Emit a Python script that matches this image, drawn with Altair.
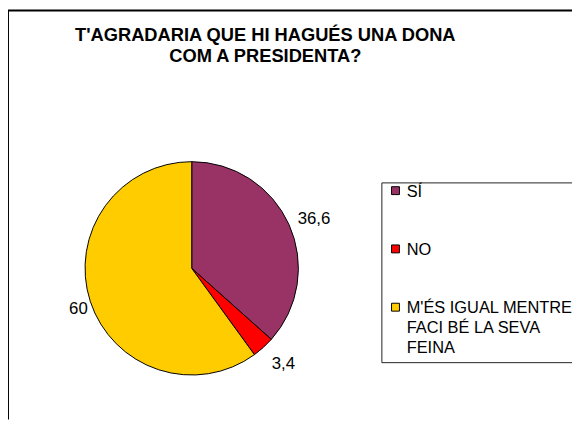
import json
import textwrap

import altair as alt
import pandas as pd

# ---- data -------------------------------------------------------------
categories = ["SÍ", "NO", "M'ÉS IGUAL MENTRE FACI BÉ LA SEVA FEINA"]
values = [36.6, 3.4, 60]
colors = ["#993366", "#FF0000", "#FFCC00"]
title_lines = ["T'AGRADARIA QUE HI HAGUÉS UNA DONA", "COM A PRESIDENTA?"]

# ---- layout / style ---------------------------------------------------
FONT = "Liberation Sans"
W, H = 571, 414
CX, CY, R = 186, 261, 108
LABEL_R = 128

df = pd.DataFrame({
    "categoria": categories,
    "valor": values,
    "ordre": list(range(len(categories))),
    "etiqueta": [f"{v:g}".replace(".", ",") for v in values],
})

# wrap long legend labels onto several lines
label_expr = "datum.label"
for c in categories:
    lines = textwrap.wrap(c, 17)
    if len(lines) > 1:
        label_expr = (f"datum.label == {json.dumps(c, ensure_ascii=False)} ? "
                      f"{json.dumps(lines, ensure_ascii=False)} : " + label_expr)

legend = alt.Legend(
    title=None,
    orient="none",
    legendX=378,
    legendY=174,
    padding=6,
    strokeColor="#222222",
    fillColor="white",
    labelFont=FONT,
    labelFontSize=16.6,
    labelColor="black",
    labelLimit=400,
    labelOffset=3,
    labelBaseline="alphabetic",
    labelExpr=label_expr,
    symbolType="M-1,-2.49L1,-2.49L1,-0.49L-1,-0.49Z",
    symbolSize=64,
    symbolStrokeColor="black",
    symbolStrokeWidth=1,
    symbolOpacity=1,
    rowPadding=42,
)

base = alt.Chart(df).encode(
    theta=alt.Theta("valor:Q", stack=True),
    order=alt.Order("ordre:Q"),
)

pie = base.mark_arc(radius=R, stroke="black", strokeWidth=1).encode(
    color=alt.Color("categoria:N",
                    scale=alt.Scale(domain=categories, range=colors),
                    sort=categories,
                    legend=legend),
    x=alt.value(CX),
    y=alt.value(CY),
)

labels = base.mark_text(radius=LABEL_R, font=FONT, fontSize=17, color="black",
                        align="center", baseline="middle", dx=7, dy=2).encode(
    text="etiqueta:N",
    x=alt.value(CX),
    y=alt.value(CY),
)

one = pd.DataFrame({"k": [0]})
border_top = alt.Chart(one).mark_rule(color="black", strokeWidth=2).encode(
    x=alt.value(0), x2=alt.value(W), y=alt.value(0))
border_left = alt.Chart(one).mark_rule(color="black", strokeWidth=2).encode(
    x=alt.value(0), y=alt.value(0), y2=alt.value(H))

chart = alt.layer(border_top, border_left, pie, labels).properties(
    width=W,
    height=H,
    padding=0,
    autosize=alt.AutoSizeParams(type="none"),
    title=alt.TitleParams(
        text=title_lines,
        font=FONT,
        fontSize=18.5,
        fontWeight="bold",
        color="black",
        anchor="middle",
        frame="group",
        baseline="top",
        lineHeight=22,
        offset=0,
        dx=-25,
        dy=57,
    ),
).configure(
    background="white",
    view=alt.ViewConfig(strokeWidth=0),
    style={"guide-label": {"lineHeight": 20}},
)

chart.save("out.html", embed_options={"renderer": "svg", "actions": False})
